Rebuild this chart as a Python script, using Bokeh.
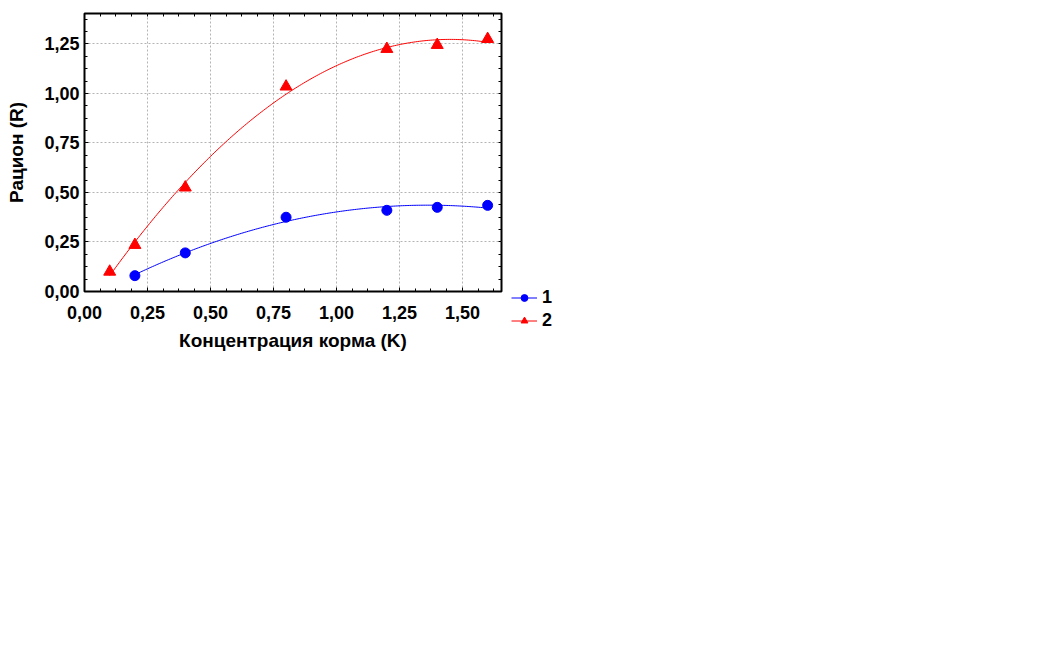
import numpy as np
from bokeh.plotting import figure
from bokeh.models import LinearAxis, Range1d, Legend, LegendItem, SingleIntervalTicker, FixedTicker
from bokeh.embed import file_html
from bokeh.resources import INLINE

# ---- data ----
x1 = [0.2, 0.4, 0.8, 1.2, 1.4, 1.6]
y1 = [0.08, 0.195, 0.375, 0.41, 0.425, 0.435]
x2 = [0.1, 0.2, 0.4, 0.8, 1.2, 1.4, 1.6]
y2 = [0.10, 0.235, 0.525, 1.035, 1.225, 1.245, 1.275]
series_labels = ["1", "2"]
x_ticks = [0.0, 0.25, 0.5, 0.75, 1.0, 1.25, 1.5]
x_tick_labels = ["0,00", "0,25", "0,50", "0,75", "1,00", "1,25", "1,50"]
y_ticks = [0.0, 0.25, 0.5, 0.75, 1.0, 1.25]
y_tick_labels = ["0,00", "0,25", "0,50", "0,75", "1,00", "1,25"]
x_title = "Концентрация корма (K)"
y_title = "Рацион (R)"

FONT = "Liberation Sans"
X_MAX, Y_MAX = 1.655, 1.404

def fit_curve(xs, ys):
    c = np.polyfit(xs, ys, 2)
    xx = np.linspace(min(xs), max(xs), 200)
    return xx, np.polyval(c, xx)

p = figure(frame_width=417, frame_height=278,
           x_range=Range1d(0, X_MAX), y_range=Range1d(0, Y_MAX),
           output_backend="svg", toolbar_location=None,
           min_border_left=84, min_border_top=13, min_border_right=10,
           min_border_bottom=62)
p.background_fill_color = "white"
p.border_fill_color = "white"
p.outline_line_color = "black"
p.outline_line_width = 2

def style_axis(ax):
    ax.axis_line_color = None
    ax.major_tick_in = 4
    ax.major_tick_out = 0
    ax.minor_tick_in = 3
    ax.minor_tick_out = 0
    ax.major_tick_line_color = "black"
    ax.minor_tick_line_color = "black"
    ax.major_label_text_font = FONT
    ax.major_label_text_font_style = "bold"
    ax.major_label_text_font_size = "18px"
    ax.major_label_text_color = "black"
    ax.axis_label_text_font = FONT
    ax.axis_label_text_font_style = "bold"
    ax.axis_label_text_font_size = "19px"
    ax.axis_label_text_color = "black"

for ax in (p.xaxis[0], p.yaxis[0]):
    ax.ticker = SingleIntervalTicker(interval=0.25, num_minor_ticks=4)
    style_axis(ax)
p.xaxis[0].major_label_overrides = dict(zip(x_ticks, x_tick_labels))
p.yaxis[0].major_label_overrides = dict(zip(y_ticks, y_tick_labels))
p.xaxis[0].axis_label = x_title
p.yaxis[0].axis_label = y_title
p.xaxis[0].major_label_standoff = 14
p.xaxis[0].axis_label_standoff = 8
p.yaxis[0].major_label_standoff = 5
p.yaxis[0].axis_label_standoff = 14

# top and right axes: tick marks only, no labels
tick_marks = list(np.arange(0, 1.75, 0.0625))
top = LinearAxis(ticker=FixedTicker(ticks=[], minor_ticks=tick_marks))
style_axis(top)
top.major_label_standoff = 0
p.add_layout(top, "above")
right = LinearAxis(ticker=FixedTicker(ticks=[], minor_ticks=tick_marks))
style_axis(right)
right.major_label_standoff = 0
p.add_layout(right, "right")

for g in (p.xgrid[0], p.ygrid[0]):
    g.ticker = SingleIntervalTicker(interval=0.25)
    g.grid_line_color = "#b4b4b4"
    g.grid_line_dash = "2 2"
    g.grid_line_width = 1

fx1, fy1 = fit_curve(x1, y1)
fx2, fy2 = fit_curve(x2, y2)
l1 = p.line(fx1, fy1, line_color="#0000ff", line_width=1)
s1 = p.scatter(x1, y1, marker="circle", size=10, fill_color="#0000ff", line_color="#0000ff")
l2 = p.line(fx2, fy2, line_color="#ff0000", line_width=1)
s2 = p.scatter(x2, y2, marker="triangle", size=12, fill_color="#ff0000", line_color="#ff0000")

legend = Legend(items=[LegendItem(label=series_labels[0], renderers=[l1, s1]),
                       LegendItem(label=series_labels[1], renderers=[l2, s2])],
                location=(-227, -40))
legend.background_fill_alpha = 0
legend.border_line_color = None
legend.padding = 0
legend.margin = 0
legend.spacing = 2
legend.glyph_width = 26
legend.glyph_height = 17
legend.label_standoff = 5
legend.label_height = 17
legend.label_text_font = FONT
legend.label_text_font_style = "bold"
legend.label_text_font_size = "18px"
legend.label_text_color = "black"
p.add_layout(legend, "right")

open("out.html", "w").write(file_html(p, INLINE))
